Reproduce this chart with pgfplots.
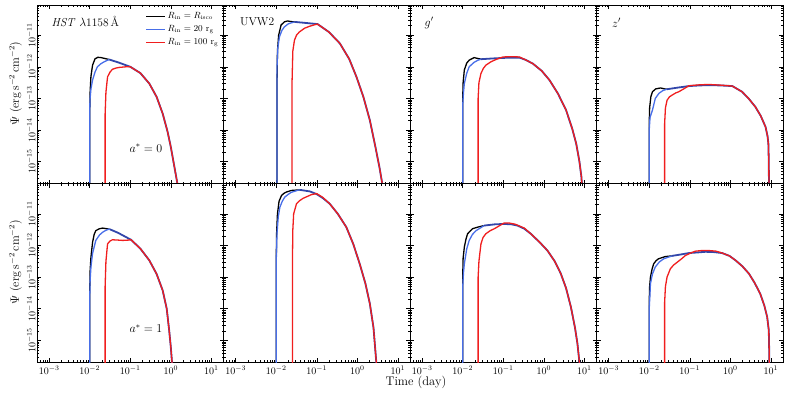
\documentclass[border=0pt]{standalone}
\usepackage{pgfplots}
\pgfplotsset{compat=1.18}
\usepgfplotslibrary{groupplots}
\definecolor{cblue}{RGB}{72,110,232}
\definecolor{cred}{RGB}{240,30,30}
\definecolor{ctail}{RGB}{50,70,170}
\begin{document}
\begin{tikzpicture}
\begin{groupplot}[
 group style={group size=4 by 2, horizontal sep=0pt, vertical sep=0pt,
   xticklabels at=edge bottom, yticklabels at=edge left},
 width=186.5pt, height=178.7pt, scale only axis,
 xmode=log, ymode=log, xmin=5e-4, xmax=20, ymin=2e-16, ymax=9e-11,
 xtick={1e-3,1e-2,1e-1,1,10}, ytick={1e-15,1e-14,1e-13,1e-12,1e-11},
 minor xtick={6e-4,7e-4,8e-4,9e-4,2e-3,3e-3,4e-3,5e-3,6e-3,7e-3,8e-3,9e-3,2e-2,3e-2,4e-2,5e-2,6e-2,7e-2,8e-2,9e-2,0.2,0.3,0.4,0.5,0.6,0.7,0.8,0.9,2,3,4,5,6,7,8,9},
 minor ytick={3e-16,4e-16,5e-16,6e-16,7e-16,8e-16,9e-16,2e-15,3e-15,4e-15,5e-15,6e-15,7e-15,8e-15,9e-15,2e-14,3e-14,4e-14,5e-14,6e-14,7e-14,8e-14,9e-14,2e-13,3e-13,4e-13,5e-13,6e-13,7e-13,8e-13,9e-13,2e-12,3e-12,4e-12,5e-12,6e-12,7e-12,8e-12,9e-12,2e-11,3e-11,4e-11,5e-11,6e-11,7e-11,8e-11},
 tick align=inside, major tick length=4pt, minor tick length=2pt,
 every tick/.style={black, line width=0.5pt},
 tick label style={font=\fontsize{10}{10}\selectfont},
 yticklabel style={rotate=90, anchor=south, inner sep=1.5pt},
 axis line style={line width=0.7pt},
 every axis plot/.append style={line width=1.3pt, no markers},
 ylabel style={at={(axis description cs:-0.115,0.56)}, anchor=center, font=\fontsize{11.5}{12}\selectfont},
]
%% ---------------- A1 : HST, a*=0
\nextgroupplot[ylabel={$\Psi\ (\mathrm{erg\,s^{-2}\,cm^{-2}})$},
 legend style={draw=none, fill=none, at={(0.99,0.978)}, anchor=north east, font=\fontsize{9}{9.5}\selectfont, row sep=1.5pt, inner sep=1pt},
 legend cell align=left,
 legend image code/.code={\draw[#1, line width=0.9pt] (0pt,0pt) -- (19pt,0pt);}]
\addplot[ctail, line width=1.8pt, forget plot] coordinates {(3.020e-2,1.698e-12) (5.012e-2,1.380e-12) (1.000e-1,1.000e-12) (1.778e-1,6.310e-13) (2.951e-1,2.951e-13) (4.467e-1,1.122e-13) (6.310e-1,3.311e-14) (8.318e-1,8.913e-15) (1.000,2.951e-15) (1.202,7.943e-16) (1.413,2.512e-16) (1.585,1e-16)};
\addplot[black] coordinates {(1.000e-2,1e-17) (1.000e-2,3.162e-14) (1.023e-2,1.585e-13) (1.072e-2,5.012e-13) (1.175e-2,1.122e-12) (1.349e-2,1.778e-12) (1.585e-2,1.995e-12) (1.905e-2,1.950e-12) (2.399e-2,1.820e-12) (3.020e-2,1.698e-12)};
\addlegendentry{$R_\mathrm{in}=R_\mathrm{isco}$}
\addplot[cblue] coordinates {(1.000e-2,1e-17) (1.000e-2,2.512e-14) (1.012e-2,8.710e-14) (1.072e-2,1.995e-13) (1.175e-2,3.802e-13) (1.349e-2,6.761e-13) (1.549e-2,1.000e-12) (1.905e-2,1.259e-12) (2.291e-2,1.445e-12) (3.020e-2,1.698e-12)};
\addlegendentry{$R_\mathrm{in}=20\ \mathrm{r_g}$}
\addplot[cred] coordinates {(2.399e-2,1e-17) (2.399e-2,3.162e-14) (2.512e-2,1.585e-13) (2.754e-2,4.786e-13) (3.162e-2,6.761e-13) (3.631e-2,8.318e-13) (4.467e-2,9.120e-13) (5.370e-2,9.550e-13) (7.943e-2,1.000e-12) (1.000e-1,1.000e-12) (1.778e-1,6.310e-13) (2.951e-1,2.951e-13) (4.467e-1,1.122e-13) (6.310e-1,3.311e-14) (8.318e-1,8.913e-15) (1.000,2.951e-15) (1.202,7.943e-16) (1.413,2.512e-16) (1.585,1e-16)};
\addlegendentry{$R_\mathrm{in}=100\ \mathrm{r_g}$}
\node[anchor=west, font=\fontsize{11.5}{12}\selectfont] at (rel axis cs:0.06,0.905) {\textit{HST} $\lambda$1158\,\AA};
\node[font=\fontsize{12}{12}\selectfont] at (rel axis cs:0.584,0.199) {$a^{*}=0$};
%% ---------------- A2 : UVW2, a*=0
\nextgroupplot
\addplot[ctail, line width=1.8pt] coordinates {(2.818e-2,2.630e-11) (5.012e-2,2.455e-11) (1.047e-1,2.239e-11) (1.995e-1,1.259e-11) (3.715e-1,5.495e-12) (6.310e-1,1.778e-12) (9.550e-1,4.786e-13) (1.413,1.122e-13) (2.042,2.042e-14) (2.818,2.818e-15) (3.548,6.310e-16) (4.266,1.585e-16) (4.571,6.310e-17)};
\addplot[black] coordinates {(1.047e-2,1e-17) (1.047e-2,3.162e-13) (1.072e-2,3.162e-12) (1.148e-2,1.000e-11) (1.318e-2,2.089e-11) (1.585e-2,2.630e-11) (1.905e-2,2.818e-11) (2.291e-2,2.692e-11) (2.818e-2,2.630e-11)};
\addplot[cblue] coordinates {(1.047e-2,1e-17) (1.047e-2,1.000e-12) (1.096e-2,3.981e-12) (1.202e-2,8.913e-12) (1.380e-2,1.413e-11) (1.585e-2,1.820e-11) (1.995e-2,2.291e-11) (2.818e-2,2.630e-11)};
\addplot[cred] coordinates {(2.455e-2,1e-17) (2.455e-2,3.162e-13) (2.570e-2,3.162e-12) (2.818e-2,6.918e-12) (3.162e-2,1.000e-11) (3.715e-2,1.259e-11) (5.012e-2,1.660e-11) (6.607e-2,1.905e-11) (8.913e-2,2.138e-11) (1.047e-1,2.239e-11) (1.995e-1,1.259e-11) (3.715e-1,5.495e-12) (6.310e-1,1.778e-12) (9.550e-1,4.786e-13) (1.413,1.122e-13) (2.042,2.042e-14) (2.818,2.818e-15) (3.548,6.310e-16) (4.266,1.585e-16) (4.571,6.310e-17)};
\node[anchor=west, font=\fontsize{11.5}{12}\selectfont] at (rel axis cs:0.07,0.905) {UVW2};
%% ---------------- A3 : g', a*=0
\nextgroupplot
\addplot[ctail, line width=1.8pt] coordinates {(2.818e-2,1.738e-12) (5.012e-2,1.820e-12) (9.772e-2,1.905e-12) (1.585e-1,1.950e-12) (2.512e-1,1.950e-12) (3.548e-1,1.660e-12) (5.370e-1,1.259e-12) (8.913e-1,7.413e-13) (1.380,3.802e-13) (2.239,1.413e-13) (3.548,4.266e-14) (5.012,1.122e-14) (6.310,3.715e-15) (7.586,1e-15) (8.511,3.162e-16) (9.120,6.310e-17)};
\addplot[black] coordinates {(1.000e-2,1e-17) (1.000e-2,1.000e-13) (1.023e-2,3.162e-13) (1.096e-2,7.943e-13) (1.259e-2,1.318e-12) (1.445e-2,1.622e-12) (1.905e-2,1.950e-12) (2.399e-2,1.820e-12) (2.818e-2,1.738e-12)};
\addplot[cblue] coordinates {(1.000e-2,1e-17) (1.000e-2,6.310e-14) (1.047e-2,1.585e-13) (1.096e-2,2.951e-13) (1.259e-2,6.310e-13) (1.445e-2,1.000e-12) (1.905e-2,1.380e-12) (2.399e-2,1.622e-12) (2.818e-2,1.738e-12)};
\addplot[cred] coordinates {(2.399e-2,1e-17) (2.399e-2,1.000e-13) (2.512e-2,3.162e-13) (2.818e-2,6.166e-13) (3.236e-2,8.913e-13) (3.715e-2,1.122e-12) (5.012e-2,1.445e-12) (6.607e-2,1.698e-12) (9.772e-2,2.042e-12) (1.585e-1,2.089e-12) (2.512e-1,2.042e-12) (3.548e-1,1.660e-12) (5.370e-1,1.259e-12) (8.913e-1,7.413e-13) (1.380,3.802e-13) (2.239,1.413e-13) (3.548,4.266e-14) (5.012,1.122e-14) (6.310,3.715e-15) (7.586,1e-15) (8.511,3.162e-16) (9.120,6.310e-17)};
\node[anchor=west, font=\fontsize{11.5}{12}\selectfont] at (rel axis cs:0.06,0.9) {$g'$};
%% ---------------- A4 : z', a*=0
\nextgroupplot
\addplot[ctail, line width=1.8pt] coordinates {(2.754e-2,1.950e-13) (5.012e-2,2.188e-13) (9.550e-2,2.455e-13) (1.778e-1,2.570e-13) (2.951e-1,2.630e-13) (5.623e-1,2.570e-13) (1.122,2.455e-13) (1.950,1.622e-13) (2.818,1e-13) (4.169,5.370e-14) (5.623,2.818e-14) (7.413,1.259e-14) (8.318,6.310e-15) (8.710,3.715e-15) (8.913,1e-15) (9.016,1.585e-16) (9.120,1e-17)};
\addplot[black] coordinates {(1.000e-2,1e-17) (1.000e-2,1.585e-14) (1.023e-2,5.012e-14) (1.096e-2,1.122e-13) (1.202e-2,1.622e-13) (1.445e-2,1.995e-13) (1.905e-2,2.138e-13) (2.399e-2,1.995e-13) (2.754e-2,1.950e-13)};
\addplot[cblue] coordinates {(1.000e-2,1e-17) (1.000e-2,1.000e-14) (1.047e-2,2.512e-14) (1.202e-2,4.266e-14) (1.413e-2,1.000e-13) (1.738e-2,1.445e-13) (2.188e-2,1.778e-13) (2.754e-2,1.950e-13)};
\addplot[cred] coordinates {(2.399e-2,1e-17) (2.399e-2,1.585e-14) (2.512e-2,5.012e-14) (2.754e-2,8.710e-14) (3.162e-2,1.122e-13) (3.631e-2,1.259e-13) (4.467e-2,1.479e-13) (5.370e-2,1.622e-13) (7.079e-2,1.995e-13) (9.550e-2,2.512e-13) (1.778e-1,2.692e-13) (2.951e-1,2.754e-13) (5.623e-1,2.630e-13) (1.122,2.455e-13) (1.950,1.622e-13) (2.818,1e-13) (4.169,5.370e-14) (5.623,2.818e-14) (7.413,1.259e-14) (8.318,6.310e-15) (8.710,3.715e-15) (8.913,1e-15) (9.016,1.585e-16) (9.120,1e-17)};
\node[anchor=west, font=\fontsize{11.5}{12}\selectfont] at (rel axis cs:0.065,0.9) {$z'$};
%% ---------------- B1 : HST, a*=1
\nextgroupplot[ylabel={$\Psi\ (\mathrm{erg\,s^{-2}\,cm^{-2}})$}]
\addplot[ctail, line width=1.8pt] coordinates {(3.162e-2,3.236e-12) (5.012e-2,2.512e-12) (1.047e-1,1.514e-12) (1.778e-1,7.943e-13) (2.951e-1,3.388e-13) (4.467e-1,1.259e-13) (6.310e-1,3.802e-14) (7.943e-1,1e-14) (9.120e-1,2.089e-15) (1.000,6.310e-16) (1.072,1.995e-16) (1.122,1e-17)};
\addplot[black] coordinates {(1.000e-2,1e-17) (1.000e-2,3.162e-14) (1.023e-2,1.585e-13) (1.072e-2,4.266e-13) (1.175e-2,1.259e-12) (1.288e-2,2.239e-12) (1.413e-2,2.951e-12) (1.738e-2,3.388e-12) (2.089e-2,3.548e-12) (2.630e-2,3.388e-12) (3.162e-2,3.236e-12)};
\addplot[cblue] coordinates {(1.000e-2,1e-17) (1.000e-2,1.995e-14) (1.023e-2,7.943e-14) (1.072e-2,2.089e-13) (1.175e-2,5.623e-13) (1.413e-2,1.445e-12) (1.738e-2,2.138e-12) (2.089e-2,2.630e-12) (2.512e-2,3.020e-12) (3.020e-2,3.311e-12) (3.162e-2,3.236e-12)};
\addplot[cred] coordinates {(2.399e-2,1e-17) (2.399e-2,5.012e-14) (2.512e-2,3.162e-13) (2.754e-2,1.122e-12) (3.162e-2,1.380e-12) (3.631e-2,1.514e-12) (5.012e-2,1.479e-12) (6.457e-2,1.445e-12) (8.913e-2,1.479e-12) (1.047e-1,1.514e-12) (1.778e-1,7.943e-13) (2.951e-1,3.388e-13) (4.467e-1,1.259e-13) (6.310e-1,3.802e-14) (7.943e-1,1e-14) (9.120e-1,2.089e-15) (1.000,6.310e-16) (1.072,1.995e-16) (1.122,1e-17)};
\node[font=\fontsize{12}{12}\selectfont] at (rel axis cs:0.584,0.19) {$a^{*}=1$};
%% ---------------- B2 : UVW2, a*=1
\nextgroupplot
\addplot[ctail, line width=1.8pt] coordinates {(3.802e-2,5.754e-11) (6.761e-2,5.129e-11) (9.772e-2,4.266e-11) (1.413e-1,3.162e-11) (2.089e-1,2.089e-11) (3.311e-1,1e-11) (5.370e-1,3.802e-12) (7.943e-1,1.122e-12) (1.148,2.630e-13) (1.585,6.310e-14) (2.042,1.445e-14) (2.512,2.512e-15) (2.951,1.995e-16) (3.162,1e-17)};
\addplot[black] coordinates {(1.000e-2,1e-17) (1.000e-2,3.162e-13) (1.023e-2,2.512e-12) (1.072e-2,1e-11) (1.175e-2,2.512e-11) (1.349e-2,3.802e-11) (1.549e-2,4.467e-11) (1.778e-2,4.898e-11) (2.344e-2,5.495e-11) (3.802e-2,5.754e-11)};
\addplot[cblue] coordinates {(1.000e-2,1e-17) (1.000e-2,3.162e-13) (1.047e-2,2.512e-12) (1.122e-2,7.943e-12) (1.230e-2,1.622e-11) (1.413e-2,2.512e-11) (1.622e-2,3.388e-11) (1.995e-2,4.169e-11) (2.344e-2,4.786e-11) (3.467e-2,5.623e-11) (3.802e-2,5.754e-11)};
\addplot[cred] coordinates {(2.512e-2,1e-17) (2.512e-2,3.162e-13) (2.570e-2,3.162e-12) (2.692e-2,1e-11) (3.162e-2,2.089e-11) (3.802e-2,2.630e-11) (4.571e-2,3.090e-11) (7.413e-2,4.074e-11) (1.000e-1,4.365e-11) (1.413e-1,3.311e-11) (2.089e-1,2.089e-11) (3.311e-1,1e-11) (5.370e-1,3.802e-12) (7.943e-1,1.122e-12) (1.148,2.630e-13) (1.585,6.310e-14) (2.042,1.445e-14) (2.512,2.512e-15) (2.951,1.995e-16) (3.162,1e-17)};
%% ---------------- B3 : g', a*=1
\nextgroupplot
\addplot[ctail, line width=1.8pt] coordinates {(3.388e-2,4.266e-12) (6.310e-2,4.677e-12) (1.047e-1,4.786e-12) (1.585e-1,4.677e-12) (2.239e-1,4.266e-12) (3.311e-1,3.388e-12) (4.786e-1,2.344e-12) (7.943e-1,1.259e-12) (1.230,6.918e-13) (1.862,3.162e-13) (2.630,1.288e-13) (3.548,4.467e-14) (4.677,1.122e-14) (5.888,2.512e-15) (6.761,7.943e-16) (7.586,1.995e-16) (7.943,1e-17)};
\addplot[black] coordinates {(1.000e-2,1e-17) (1.000e-2,1e-13) (1.023e-2,3.981e-13) (1.096e-2,8.913e-13) (1.202e-2,1.585e-12) (1.318e-2,2.344e-12) (1.738e-2,3.388e-12) (2.344e-2,3.802e-12) (3.388e-2,4.266e-12)};
\addplot[cblue] coordinates {(1.000e-2,1e-17) (1.000e-2,5.012e-14) (1.047e-2,1.413e-13) (1.096e-2,2.630e-13) (1.259e-2,7.943e-13) (1.445e-2,1.445e-12) (1.738e-2,2.239e-12) (2.138e-2,2.951e-12) (3.388e-2,4.266e-12)};
\addplot[cred] coordinates {(2.399e-2,1e-17) (2.399e-2,1e-13) (2.512e-2,3.162e-13) (2.818e-2,1.122e-12) (3.162e-2,1.778e-12) (3.715e-2,2.344e-12) (4.786e-2,2.951e-12) (6.026e-2,3.388e-12) (7.943e-2,4.169e-12) (1.047e-1,5.129e-12) (1.413e-1,5.129e-12) (1.995e-1,4.677e-12) (3.311e-1,3.548e-12) (4.786e-1,2.344e-12) (7.943e-1,1.259e-12) (1.230,6.918e-13) (1.862,3.162e-13) (2.630,1.288e-13) (3.548,4.467e-14) (4.677,1.122e-14) (5.888,2.512e-15) (6.761,7.943e-16) (7.586,1.995e-16) (7.943,1e-17)};
%% ---------------- B4 : z', a*=1
\nextgroupplot
\addplot[ctail, line width=1.8pt] coordinates {(3.631e-2,4.677e-13) (6.310e-2,5.248e-13) (9.550e-2,5.754e-13) (1.585e-1,6.026e-13) (2.455e-1,6.310e-13) (3.981e-1,6.166e-13) (6.310e-1,5.754e-13) (9.550e-1,4.677e-13) (1.349,3.388e-13) (1.995,2.188e-13) (2.884,1.288e-13) (3.981,6.607e-14) (5.495,2.951e-14) (6.918,1.259e-14) (8.128,5.495e-15) (8.913,2.089e-15) (9.120,5.012e-16) (9.226,1e-17)};
\addplot[black] coordinates {(1.000e-2,1e-17) (1.000e-2,1.585e-14) (1.023e-2,5.012e-14) (1.072e-2,1e-13) (1.175e-2,1.778e-13) (1.288e-2,2.630e-13) (1.479e-2,3.311e-13) (1.698e-2,3.802e-13) (2.512e-2,4.467e-13) (3.631e-2,4.677e-13)};
\addplot[cblue] coordinates {(1.000e-2,1e-17) (1.000e-2,1e-14) (1.047e-2,3.162e-14) (1.072e-2,6.166e-14) (1.202e-2,1.259e-13) (1.413e-2,2.089e-13) (1.778e-2,3.020e-13) (2.291e-2,3.802e-13) (3.631e-2,4.677e-13)};
\addplot[cred] coordinates {(2.399e-2,1e-17) (2.399e-2,1.585e-14) (2.512e-2,5.012e-14) (2.754e-2,1e-13) (3.311e-2,1.820e-13) (3.981e-2,2.399e-13) (4.898e-2,2.951e-13) (6.310e-2,3.802e-13) (7.762e-2,4.786e-13) (1.047e-1,5.754e-13) (1.380e-1,6.607e-13) (1.995e-1,6.918e-13) (2.951e-1,6.918e-13) (4.467e-1,6.607e-13) (6.310e-1,5.754e-13) (9.550e-1,4.677e-13) (1.349,3.388e-13) (1.995,2.188e-13) (2.884,1.288e-13) (3.981,6.607e-14) (5.495,2.951e-14) (6.918,1.259e-14) (8.128,5.495e-15) (8.913,2.089e-15) (9.120,5.012e-16) (9.226,1e-17)};
\end{groupplot}
\node[anchor=base, font=\fontsize{12.5}{13}\selectfont] at ([xshift=6pt,yshift=-23pt]group c2r2.south east) {Time (day)};
\pgfresetboundingbox
\path[use as bounding box] ([xshift=-37pt,yshift=5pt]group c1r1.north west) rectangle ([xshift=752pt,yshift=-390pt]group c1r1.north west);
\end{tikzpicture}
\end{document}
